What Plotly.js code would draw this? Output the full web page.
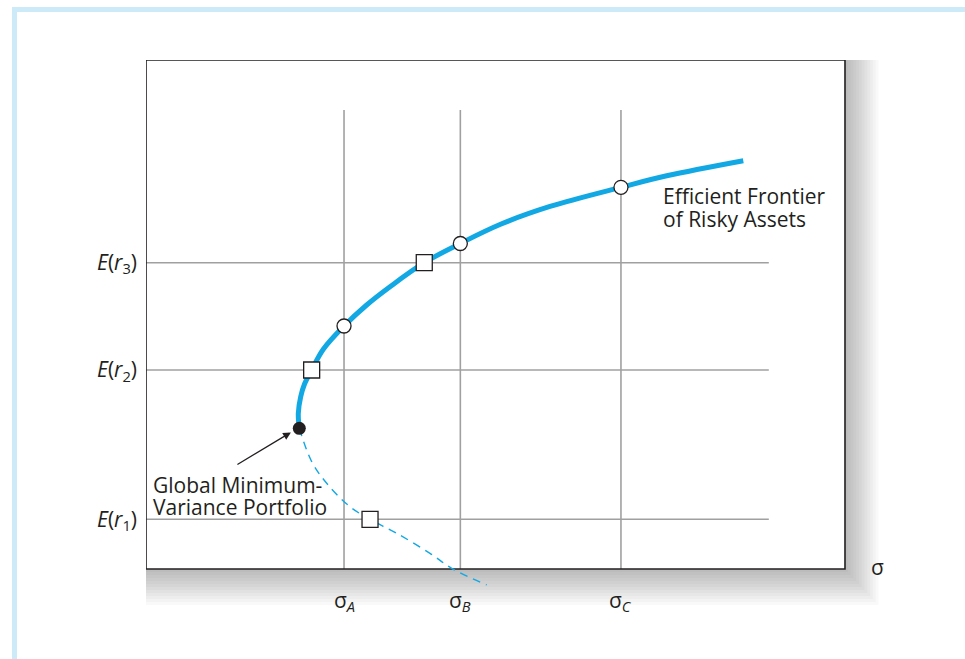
<!DOCTYPE html>
<html>
<head>
<meta charset="utf-8">
<script src="https://cdn.plot.ly/plotly-3.0.1.min.js"></script>
<style>
  html, body { margin: 0; padding: 0; background: #ffffff; }
  #chart { width: 965px; height: 659px; }
  .frame-top { position: absolute; left: 12px; top: 7px; width: 953px; height: 5px; background: #cdeaf9; }
  .frame-left { position: absolute; left: 12px; top: 7px; width: 5px; height: 652px; background: #cdeaf9; }
</style>
</head>
<body>
<div id="chart"></div>
<div class="frame-top"></div>
<div class="frame-left"></div>
<script>
// ---- data (chart units) ----
const sigmaVals = [2.833, 4.497, 6.795];
const sigmaLabels = ['σ<sub><i>A</i></sub>', 'σ<sub><i>B</i></sub>', 'σ<sub><i>C</i></sub>'];
const expRetVals = [0.976, 3.910, 6.018];
const expRetLabels = ['<i>E</i>(<i>r</i><sub>1</sub>)', '<i>E</i>(<i>r</i><sub>2</sub>)', '<i>E</i>(<i>r</i><sub>3</sub>)'];

// efficient frontier (upper, solid)
const frontierSigma = [2.193, 2.179, 2.213, 2.268, 2.370, 2.539, 2.833, 3.157, 3.491, 3.981, 4.497, 5.064, 5.780, 6.795, 7.449, 8.545];
const frontierRet   = [2.764, 3.059, 3.385, 3.634, 3.910, 4.322, 4.774, 5.187, 5.546, 6.018, 6.395, 6.768, 7.122, 7.499, 7.725, 8.022];

// inefficient lower branch (dashed)
const lowerSigma = [2.193, 2.371, 2.585, 2.918, 3.205, 3.587, 4.063, 4.373, 4.874];
const lowerRet   = [2.764, 2.108, 1.684, 1.224, 0.976, 0.701, 0.308, 0.014, -0.314];

// global minimum variance portfolio
const gmvSigma = [2.193];
const gmvRet = [2.764];

// individual assets: circles at sigma levels, squares at expected return levels
const circleSigma = sigmaVals;
const circleRet = [4.774, 6.395, 7.499];
const squareSigma = [3.205, 2.370, 3.981];
const squareRet = expRetVals;

// plot frame in chart units
const boxX = [0, 10];
const boxY = [0, 10];
const gridTop = 9.02;
const gridRight = 8.91;

// ---- style ----
const BLUE = '#12a8e4';
const TXT = '#231f20';
const GRID = '#a0a0a0';
const FONT = 'Open Sans, Noto Sans, sans-serif';
const FS = 21;
const pxX = 69.9, pxY = 50.9;

const shapes = [];
// soft shadow behind the box
for (let i = 12; i >= 1; i--) {
  shapes.push({
    type: 'rect', layer: 'below', xref: 'x', yref: 'y',
    x0: boxX[0] - (i * 0.7) / pxX, x1: boxX[1] + (i * 2.8) / pxX,
    y0: boxY[0] - (i * 3.0) / pxY, y1: boxY[1] + (i * 1.2) / pxY,
    fillcolor: 'rgba(0,0,0,0.022)', line: { width: 0 }
  });
}
// white plot box
shapes.push({
  type: 'rect', layer: 'below', xref: 'x', yref: 'y',
  x0: boxX[0], x1: boxX[1], y0: boxY[0], y1: boxY[1],
  fillcolor: '#ffffff', line: { width: 0 }
});
// grid lines
sigmaVals.forEach(s => shapes.push({
  type: 'line', layer: 'below', xref: 'x', yref: 'y',
  x0: s, x1: s, y0: boxY[0], y1: gridTop, line: { color: GRID, width: 1.6 }
}));
expRetVals.forEach(e => shapes.push({
  type: 'line', layer: 'below', xref: 'x', yref: 'y',
  x0: boxX[0], x1: gridRight, y0: e, y1: e, line: { color: GRID, width: 1.6 }
}));
// box outline
shapes.push({
  type: 'rect', layer: 'below', xref: 'x', yref: 'y',
  x0: boxX[0], x1: boxX[1], y0: boxY[0], y1: boxY[1],
  fillcolor: 'rgba(0,0,0,0)', line: { color: '#231f20', width: 1.6 }
});

const traces = [
  { x: lowerSigma, y: lowerRet, mode: 'lines', type: 'scatter',
    line: { color: BLUE, width: 1.4, dash: '8px,6px', shape: 'spline' }, hoverinfo: 'skip' },
  { x: frontierSigma, y: frontierRet, mode: 'lines', type: 'scatter',
    line: { color: BLUE, width: 5, shape: 'spline', smoothing: 1 }, hoverinfo: 'skip' },
  { x: gmvSigma, y: gmvRet, mode: 'markers', type: 'scatter',
    marker: { symbol: 'circle', size: 13, color: '#231f20' }, hoverinfo: 'skip' },
  { x: circleSigma, y: circleRet, mode: 'markers', type: 'scatter',
    marker: { symbol: 'circle', size: 14, color: '#ffffff', line: { color: '#231f20', width: 1.3 } }, hoverinfo: 'skip' },
  { x: squareSigma, y: squareRet, mode: 'markers', type: 'scatter',
    marker: { symbol: 'square', size: 16, color: '#ffffff', line: { color: '#231f20', width: 1.3 } }, hoverinfo: 'skip' }
];

const annotations = [];
sigmaVals.forEach((s, i) => annotations.push({
  x: s, y: -0.62, xref: 'x', yref: 'y', text: sigmaLabels[i], showarrow: false,
  font: { family: FONT, size: FS, color: TXT }, xanchor: 'center', yanchor: 'middle'
}));
annotations.push({
  x: 10.46, y: 0.04, xref: 'x', yref: 'y', text: 'σ', showarrow: false,
  font: { family: FONT, size: FS, color: TXT }, xanchor: 'center', yanchor: 'middle'
});
annotations.push({
  x: 0.0, y: 10.36, xref: 'x', yref: 'y', text: '<i>E</i>(<i>r</i>)', showarrow: false,
  font: { family: FONT, size: FS, color: TXT }, xanchor: 'center', yanchor: 'middle'
});
const frontierLines = ['Efficient Frontier', 'of Risky Assets'];
const frontierLineY = [7.33, 6.88];
frontierLines.forEach((t, i) => annotations.push({
  x: 7.37, y: frontierLineY[i], xref: 'x', yref: 'y', text: t,
  showarrow: false, xanchor: 'left', yanchor: 'middle',
  font: { family: FONT, size: FS, color: TXT }
}));
const gmvLines = ['Global Minimum-', 'Variance Portfolio'];
const gmvLineY = [1.65, 1.22];
gmvLines.forEach((t, i) => annotations.push({
  x: 0.07, y: gmvLineY[i], xref: 'x', yref: 'y', text: t,
  showarrow: false, xanchor: 'left', yanchor: 'middle',
  font: { family: FONT, size: FS, color: TXT }
}));
annotations.push({
  x: gmvSigma[0] - 0.12, y: gmvRet[0] - 0.08, xref: 'x', yref: 'y', text: '',
  showarrow: true, arrowhead: 2, arrowsize: 1.2, arrowwidth: 1.3, arrowcolor: TXT,
  ax: -55, ay: 33
});

const layout = {
  width: 965, height: 659,
  margin: { l: 146, r: 78, t: 60, b: 39, pad: 0 },
  paper_bgcolor: 'rgba(0,0,0,0)', plot_bgcolor: 'rgba(0,0,0,0)',
  showlegend: false,
  xaxis: { range: [0, 10.601], showgrid: false, zeroline: false, showline: false,
           showticklabels: false, ticks: '', fixedrange: true },
  yaxis: { range: [-1.002, 10], showgrid: false, zeroline: false, showline: false,
           tickmode: 'array', tickvals: expRetVals, ticktext: expRetLabels, ticks: '',
           ticklabelstandoff: 8,
           tickfont: { family: FONT, size: FS, color: TXT }, fixedrange: true },
  shapes: shapes,
  annotations: annotations
};

Plotly.newPlot('chart', traces, layout, { displayModeBar: false, staticPlot: true });
</script>
</body>
</html>
